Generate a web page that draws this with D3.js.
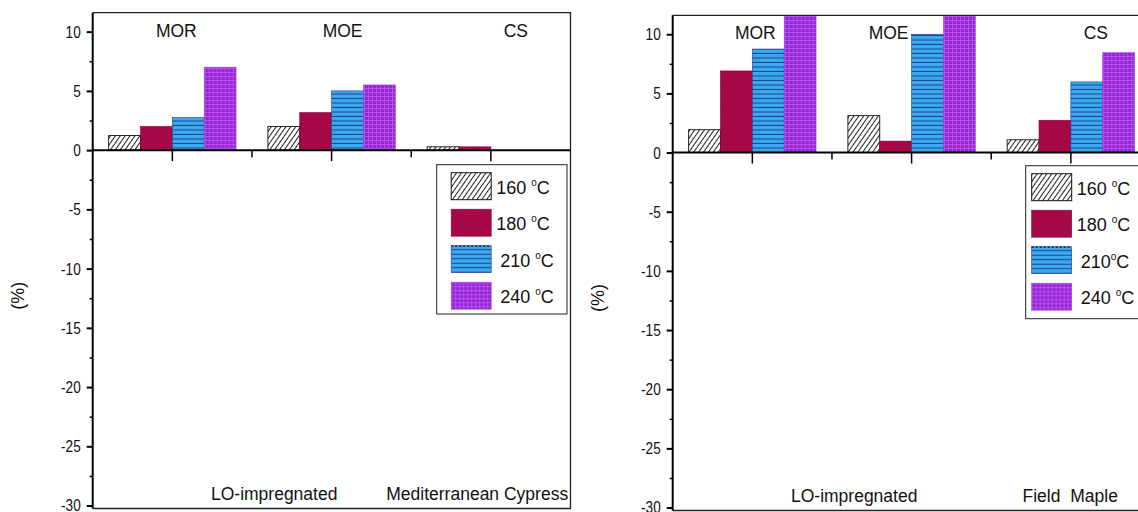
<!DOCTYPE html>
<html>
<head>
<meta charset="utf-8">
<script src="https://cdn.jsdelivr.net/npm/d3@7"></script>
<style>
  html, body { margin: 0; padding: 0; background: #fff; }
  svg { display: block; }
  text { font-family: "Liberation Sans", Arial, sans-serif; fill: #111; }
</style>
</head>
<body>
<svg id="chart" width="1138" height="512"></svg>
<script>
// Property groups along the x axis
const categories = ["MOR", "MOE", "CS"];
// Treatment temperatures (series)
const temperatures = ["160", "180", "210", "240"];

// Change (%) for LO-impregnated Mediterranean Cypress
const cypress160 = [1.23, 2.0, 0.28];
const cypress180 = [2.0, 3.17, 0.28];
const cypress210 = [2.75, 5.0, 0];
const cypress240 = [7.0, 5.5, 0];

// Change (%) for LO-impregnated Field Maple
const maple160 = [1.93, 3.12, 1.08];
const maple180 = [6.9, 0.97, 2.73];
const maple210 = [8.75, 10.0, 5.97];
const maple240 = [12.8, 13.4, 8.44];

// Axis ticks
const yTicks = [-30, -25, -20, -15, -10, -5, 0, 5, 10];
const yMinorTicks = [-27.5, -22.5, -17.5, -12.5, -7.5, -2.5, 2.5, 7.5];

// Legend texts
const cypressLegend = ["160 ", "180 ", "210 ", "240 "];
const mapleLegend = ["160 ", "180 ", "210", "240 "];

const NARROW = 0.8;   // horizontal squeeze for the condensed tick font

const svg = d3.select("#chart");
const defs = svg.append("defs");

// Fill patterns for the four temperature series
function makePatterns() {
  // 160 °C: diagonal hatch on white
  const p1 = defs.append("pattern").attr("id", "pat160")
    .attr("patternUnits", "userSpaceOnUse").attr("width", 4).attr("height", 4)
    .attr("patternTransform", "rotate(35)");
  p1.append("rect").attr("width", 4).attr("height", 4).attr("fill", "#fff");
  p1.append("line").attr("x1", 0.5).attr("y1", 0).attr("x2", 0.5).attr("y2", 4)
    .attr("stroke", "#222").attr("stroke-width", 1);

  // 180 °C: crimson with a fine cross-hatch
  const p2 = defs.append("pattern").attr("id", "pat180")
    .attr("patternUnits", "userSpaceOnUse").attr("width", 3).attr("height", 3);
  p2.append("rect").attr("width", 3).attr("height", 3).attr("fill", "#ad0a4c");
  p2.append("path").attr("d", "M0,0L3,3M3,0L0,3")
    .attr("stroke", "#8c0038").attr("stroke-width", 0.6).attr("opacity", 0.7);

  // 210 °C: sky blue with dark horizontal lines
  const p3 = defs.append("pattern").attr("id", "pat210")
    .attr("patternUnits", "userSpaceOnUse").attr("width", 6).attr("height", 4.5);
  p3.append("rect").attr("width", 6).attr("height", 4.5).attr("fill", "#3aaaf0");
  p3.append("line").attr("x1", 0).attr("y1", 4).attr("x2", 6).attr("y2", 4)
    .attr("stroke", "#1d3f86").attr("stroke-width", 1);

  // 240 °C: purple with a magenta grid
  const p4 = defs.append("pattern").attr("id", "pat240")
    .attr("patternUnits", "userSpaceOnUse").attr("width", 4).attr("height", 4);
  p4.append("rect").attr("width", 4).attr("height", 4).attr("fill", "#8a2ad0");
  p4.append("path").attr("d", "M0,0.5H4M0.5,0V4")
    .attr("stroke", "#c24af2").attr("stroke-width", 1);
}
makePatterns();

const seriesFill = ["url(#pat160)", "url(#pat180)", "url(#pat210)", "url(#pat240)"];
const seriesStroke = ["#111", "#8c0038", "#1d3f86", "#a040e0"];

// "NNN °C" with a raised small o as the degree mark
function degreeLabel(sel, base) {
  sel.append("tspan").text(base);
  sel.append("tspan").attr("font-size", 10).attr("dy", -8).text("o");
  sel.append("tspan").attr("dy", 8).text("C");
}

function drawPanel(cfg) {
  const g = svg.append("g");

  const x = d3.scaleBand().domain(categories).range([cfg.x0, cfg.x1]).padding(0);
  // bars of a group fill the middle 80% of each band
  const xSub = d3.scaleBand().domain(temperatures)
    .range([x.bandwidth() * 0.1, x.bandwidth() * 0.9]).padding(0);

  const y = d3.scaleLinear().domain([-30.25, 11.6]).range([cfg.yBot, cfg.yTop]);

  const clipId = "clip" + cfg.id;
  defs.append("clipPath").attr("id", clipId)
    .append("rect").attr("x", cfg.x0).attr("y", cfg.yTop)
    .attr("width", cfg.x1 - cfg.x0).attr("height", cfg.yBot - cfg.yTop);

  // Bars
  const rows = categories.map((c, i) => ({
    cat: c,
    vals: cfg.series.map((s, k) => ({ t: temperatures[k], k, v: s[i] }))
  }));
  const bars = g.append("g").attr("clip-path", `url(#${clipId})`);
  bars.selectAll("g.grp").data(rows).join("g")
    .attr("transform", d => `translate(${x(d.cat)},0)`)
    .selectAll("rect").data(d => d.vals.filter(v => v.v !== 0)).join("rect")
    .attr("x", d => xSub(d.t))
    .attr("width", xSub.bandwidth())
    .attr("y", d => y(Math.max(0, d.v)))
    .attr("height", d => Math.abs(y(d.v) - y(0)))
    .attr("fill", d => seriesFill[d.k])
    .attr("stroke", d => seriesStroke[d.k])
    .attr("stroke-width", d => d.k === 0 ? 0.9 : 0.6);

  // Frame: top, right and bottom
  g.append("path")
    .attr("d", `M${cfg.x0},${cfg.yTop}H${cfg.x1}V${cfg.yBot}H${cfg.x0}`)
    .attr("fill", "none").attr("stroke", "#222").attr("stroke-width", 1.3);

  // Y axis
  const yAxis = d3.axisLeft(y).tickValues(yTicks).tickSize(6).tickPadding(6)
    .tickFormat(d => String(d));
  const ya = g.append("g").attr("transform", `translate(${cfg.x0},0)`).call(yAxis);
  ya.select(".domain").attr("stroke", "#000").attr("stroke-width", 2)
    .attr("d", `M0,${cfg.yTop}V${cfg.yBot}`);
  ya.selectAll(".tick line").attr("stroke-width", 2);
  ya.selectAll(".tick text")
    .attr("font-size", 17).attr("fill", "#111")
    .attr("x", -12 / NARROW)
    .attr("transform", `scale(${NARROW},1)`);
  const ym = d3.axisLeft(y).tickValues(yMinorTicks).tickSize(3).tickFormat("");
  const ymg = g.append("g").attr("transform", `translate(${cfg.x0},0)`).call(ym);
  ymg.select(".domain").remove();
  ymg.selectAll(".tick line").attr("stroke-width", 1.5);

  // X axis along zero
  const xAxis = d3.axisBottom(x).tickSize(11).tickFormat("");
  const xa = g.append("g").attr("transform", `translate(0,${y(0)})`).call(xAxis);
  xa.select(".domain").attr("stroke-width", 2).attr("d", `M${cfg.x0},0H${cfg.x1}`);
  xa.selectAll(".tick line").attr("stroke-width", 1.5);
  // minor ticks at band boundaries
  xa.selectAll("line.minor").data(categories.slice(1)).join("line")
    .attr("class", "minor")
    .attr("x1", d => x(d)).attr("x2", d => x(d))
    .attr("y1", 0).attr("y2", 7)
    .attr("stroke", "#000").attr("stroke-width", 1.5);

  // Category titles
  g.selectAll("text.cat").data(categories).join("text")
    .attr("class", "cat")
    .attr("x", (d, i) => x(d) + x.bandwidth() / 2 + cfg.catDx[i])
    .attr("y", cfg.yTop + 24)
    .attr("text-anchor", "middle")
    .attr("font-size", 17.5)
    .text(d => d);

  // Bottom captions
  g.append("text").attr("x", cfg.x0 + 181.5).attr("y", cfg.yBot - 9)
    .attr("text-anchor", "middle").attr("font-size", 17.5).text("LO-impregnated");
  g.append("text").attr("x", cfg.x0 + cfg.speciesDx).attr("y", cfg.yBot - 9)
    .attr("text-anchor", "middle").attr("font-size", 17.5)
    .attr("word-spacing", cfg.wordSpacing)
    .text(cfg.species);

  // Y axis title
  g.append("text")
    .attr("transform", `translate(${cfg.x0 - 69},${y(-12.3)}) rotate(-90)`)
    .attr("text-anchor", "middle").attr("font-size", 18)
    .text("(%)");

  // Legend
  const lg = g.append("g").attr("transform", `translate(${cfg.x0 + cfg.legendDx},${cfg.legendY})`);
  lg.append("rect").attr("width", cfg.legendW).attr("height", cfg.legendH)
    .attr("fill", "#fff").attr("stroke", "#222").attr("stroke-width", 1);
  const rowsLg = lg.selectAll("g.item").data(temperatures).join("g")
    .attr("class", "item")
    .attr("transform", (d, i) => `translate(${cfg.swatchX},${8 + i * 36.5})`);
  rowsLg.append("rect").attr("width", 40).attr("height", 27)
    .attr("fill", (d, i) => seriesFill[i])
    .attr("stroke", (d, i) => seriesStroke[i]).attr("stroke-width", (d, i) => i === 0 ? 1 : 0.6);
  // dotted top edge on the 210 °C swatch
  rowsLg.filter((d, i) => i === 2).append("line")
    .attr("x1", 0).attr("x2", 40).attr("y1", 0.5).attr("y2", 0.5)
    .attr("stroke", "#0a2a70").attr("stroke-width", 1.5).attr("stroke-dasharray", "2,2");
  rowsLg.append("text")
    .attr("x", (d, i) => i < 2 ? 45 : 49)
    .attr("y", 21)
    .attr("font-size", 18)
    .each(function (d, i) { degreeLabel(d3.select(this), cfg.legendText[i]); });
}

drawPanel({
  id: "A", x0: 92.7, x1: 570.5, yTop: 12.7, yBot: 508.5,
  series: [cypress160, cypress180, cypress210, cypress240],
  catDx: [4, 11, 25],
  species: "Mediterranean Cypress", speciesDx: 384.5, wordSpacing: 0,
  legendDx: 344, legendY: 164.7, legendW: 130.3, legendH: 149.3, swatchX: 14.5,
  legendText: cypressLegend
});

drawPanel({
  id: "B", x0: 672.7, x1: 1150.5, yTop: 15.3, yBot: 510.5,
  series: [maple160, maple180, maple210, maple240],
  catDx: [3, -23, 25],
  species: "Field Maple", speciesDx: 397.5, wordSpacing: 5,
  legendDx: 353, legendY: 165.7, legendW: 116, legendH: 153, swatchX: 6,
  legendText: mapleLegend
});
</script>
</body>
</html>
